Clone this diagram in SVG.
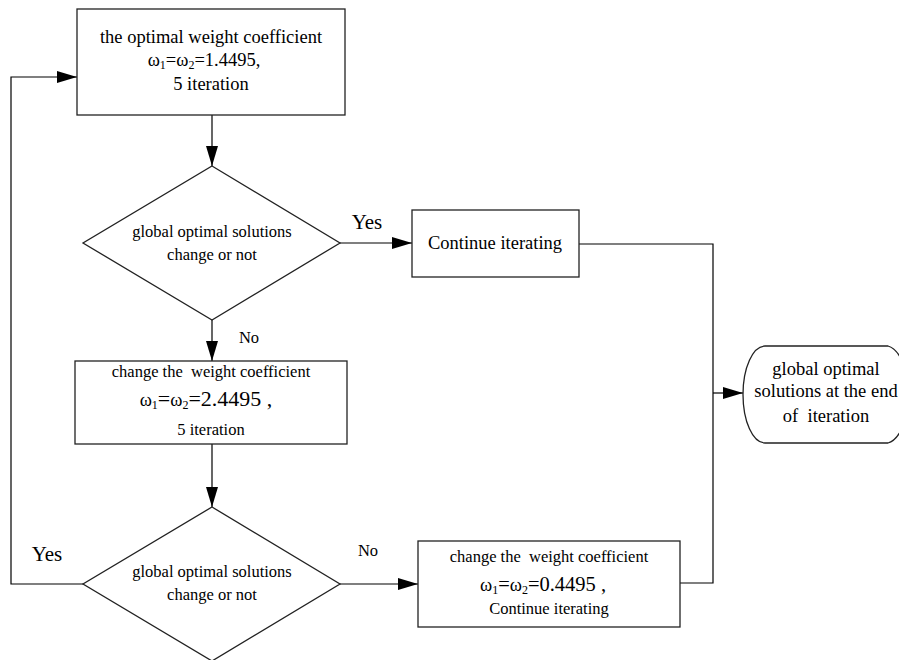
<svg xmlns="http://www.w3.org/2000/svg" width="899" height="660" viewBox="0 0 899 660" font-family="'Liberation Serif', 'Times New Roman', serif">
<defs>
<marker id="ah" viewBox="0 0 20 12" refX="20" refY="6" markerWidth="20" markerHeight="12" markerUnits="userSpaceOnUse" orient="auto">
<path d="M0,0 L20,6 L0,12 Z" fill="#000"/>
</marker>
<style>
.s{fill:#fff;stroke:#222;stroke-width:1.3}
.c{fill:none;stroke:#000;stroke-width:1.2}
text{fill:#000;text-anchor:middle}
.t{font-size:18.5px}
.l{font-size:21px}
.m{font-size:16.5px}
.b{font-size:22px}
.b2{font-size:20.5px}
.sub{font-size:12px}
</style>
</defs>
<rect width="899" height="660" fill="#fff"/>
<g id="connectors">
<path class="c" d="M212,115 V166" marker-end="url(#ah)"/>
<path class="c" d="M340,243 H412" marker-end="url(#ah)"/>
<path class="c" d="M212,320 V361" marker-end="url(#ah)"/>
<path class="c" d="M212,444 V507" marker-end="url(#ah)"/>
<path class="c" d="M83,584 H11 V77 H77" marker-end="url(#ah)"/>
<path class="c" d="M340,584 H418" marker-end="url(#ah)"/>
<path class="c" d="M579,244 H713 V583 H680"/>
<path class="c" d="M713,393 H743" marker-end="url(#ah)"/>
<text class="l" x="367" y="229">Yes</text>
<text class="m" x="249" y="343">No</text>
<text class="l" x="47" y="561">Yes</text>
<text class="m" x="368" y="556">No</text>
</g>
<g id="box1">
<rect class="s" x="77" y="9" width="268" height="106"/>
<text class="t" x="211" y="43">the optimal weight coefficient</text>
<text class="t" x="204" y="66">ω<tspan class="sub" dy="3">1</tspan><tspan dy="-3">=ω</tspan><tspan class="sub" dy="3">2</tspan><tspan dy="-3">=1.4495,</tspan></text>
<text class="t" x="211" y="90">5 iteration</text>
</g>
<g id="decision1">
<path class="s" d="M212,166 L340,243 L212,320 L83,243 Z"/>
<text class="m" x="212" y="237">global optimal solutions</text>
<text class="m" x="212" y="260">change or not</text>
</g>
<g id="continue">
<rect class="s" x="412" y="210" width="167" height="67"/>
<text class="t" x="495" y="249">Continue iterating</text>
</g>
<g id="box2">
<rect class="s" x="75" y="361" width="272" height="83"/>
<text class="m" x="211" y="377">change the&#160; weight coefficient</text>
<text class="b" x="206" y="406"><tspan class="t">ω</tspan><tspan class="sub" dy="3">1</tspan><tspan dy="-3">=</tspan><tspan class="t">ω</tspan><tspan class="sub" dy="3">2</tspan><tspan dy="-3">=2.4495 ,</tspan></text>
<text class="m" x="211" y="435">5 iteration</text>
</g>
<g id="decision2">
<path class="s" d="M212,507 L340,584 L212,661 L83,584 Z"/>
<text class="m" x="212" y="577">global optimal solutions</text>
<text class="m" x="212" y="600">change or not</text>
</g>
<g id="box3">
<rect class="s" x="418" y="541" width="262" height="86"/>
<text class="m" x="549" y="562">change the&#160; weight coefficient</text>
<text class="b2" x="543" y="591"><tspan class="t">ω</tspan><tspan class="sub" dy="3">1</tspan><tspan dy="-3">=</tspan><tspan class="t">ω</tspan><tspan class="sub" dy="3">2</tspan><tspan dy="-3">=0.4495 ,</tspan></text>
<text class="m" x="549" y="614">Continue iterating</text>
</g>
<g id="terminal">
<path class="s" d="M765,346 H888 A24,49 0 0 1 888,443 H765 A22,48.5 0 0 1 765,346 Z"/>
<text class="t" x="826" y="375">global optimal</text>
<text class="t" x="826" y="397">solutions at the end</text>
<text class="t" x="826" y="422">of&#160; iteration</text>
</g>
</svg>
